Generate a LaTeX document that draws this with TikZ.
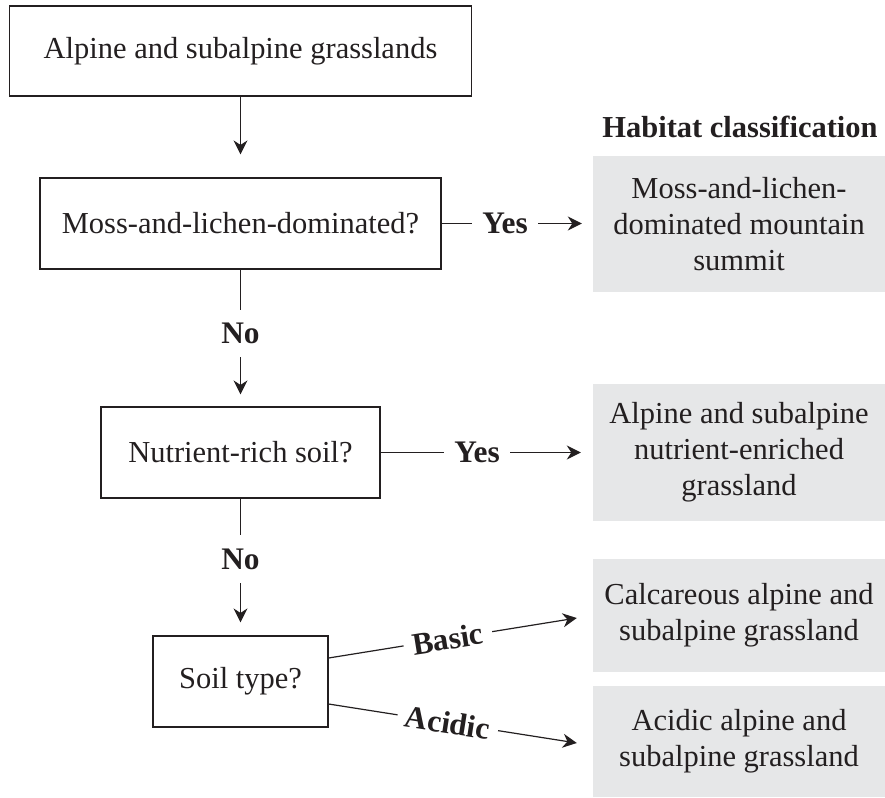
\documentclass[tikz,border=0pt]{standalone}
\usepackage{fontspec}
\setmainfont{Liberation Serif}
\usetikzlibrary{arrows.meta}
\definecolor{ink}{HTML}{231F20}
\definecolor{boxgray}{HTML}{E6E7E8}
\begin{document}
\begin{tikzpicture}[x=1bp,y=-1bp,
 every node/.style={font=\fontsize{30.6}{36}\selectfont, text=ink},
 qbox/.style={draw=ink, line width=1.2bp, inner sep=0pt, align=center, minimum height=91bp},
 hbox/.style={fill=boxgray, inner sep=0pt, align=center, minimum width=292bp},
 lab/.style={font=\fontsize{31.5}{36}\selectfont\bfseries, fill=white, inner xsep=10.5bp, inner ysep=0pt},
 conn/.style={draw=ink, line width=1.2bp},
 arr/.style={conn, -{Stealth[length=14bp,width=14bp,inset=4.5bp]}}
]
\useasboundingbox (0,0) rectangle (885,798);

\node[qbox, minimum width=462bp, minimum height=90bp] (top) at (240.5,51) {Alpine and subalpine grasslands};
\node[qbox, minimum width=401bp] (q1) at (240.5,223.5) {Moss-and-lichen-dominated?};
\node[qbox, minimum width=279bp] (q2) at (240.5,452.5) {Nutrient-rich soil?};
\node[qbox, minimum width=175bp] (q3) at (240.5,681.5) {Soil type?};

\node[font=\fontsize{30.6}{36}\selectfont\bfseries] (hdr) at (740,127) {Habitat classification};
\node[hbox, minimum height=136bp] (hA) at (739,224) {Moss-and-lichen-\\dominated mountain\\summit};
\node[hbox, minimum height=137bp] (hB) at (739,452.5) {Alpine and subalpine\\nutrient-enriched\\grassland};
\node[hbox, minimum height=113bp] (hC) at (739,615.5) {Calcareous alpine and\\subalpine grassland};
\node[hbox, minimum height=111bp] (hD) at (739,741.5) {Acidic alpine and\\subalpine grassland};

\draw[arr, shorten >=23bp] (top.south) -- (q1.north);
\draw[arr, shorten >=12bp] (q1.south) -- node[lab, pos=0.464, minimum height=47bp, inner xsep=0pt] (no1) {No} (q2.north);
\draw[arr, shorten >=13bp] (q2.south) -- node[lab, pos=0.442, minimum height=48bp, inner xsep=0pt] (no2) {No} (q3.north);

\draw[arr, shorten >=11bp] (q1.east) -- node[lab, pos=0.42] (yes1) {Yes} (q1.east -| hA.west);
\draw[arr, shorten >=12bp] (q2.east) -- node[lab, pos=0.455] (yes2) {Yes} (q2.east -| hB.west);

\draw[arr] ([yshift=23.5bp]q3.east) -- node[lab, sloped, pos=0.48, inner xsep=9bp] (basic) {Basic} ([xshift=-16bp,yshift=-2.5bp]hC.west);
\draw[arr] ([yshift=-22.5bp]q3.east) -- node[lab, sloped, pos=0.48, inner xsep=8bp] (acidic) {Acidic} ([xshift=-16bp,yshift=-1.5bp]hD.west);
\end{tikzpicture}
\end{document}
